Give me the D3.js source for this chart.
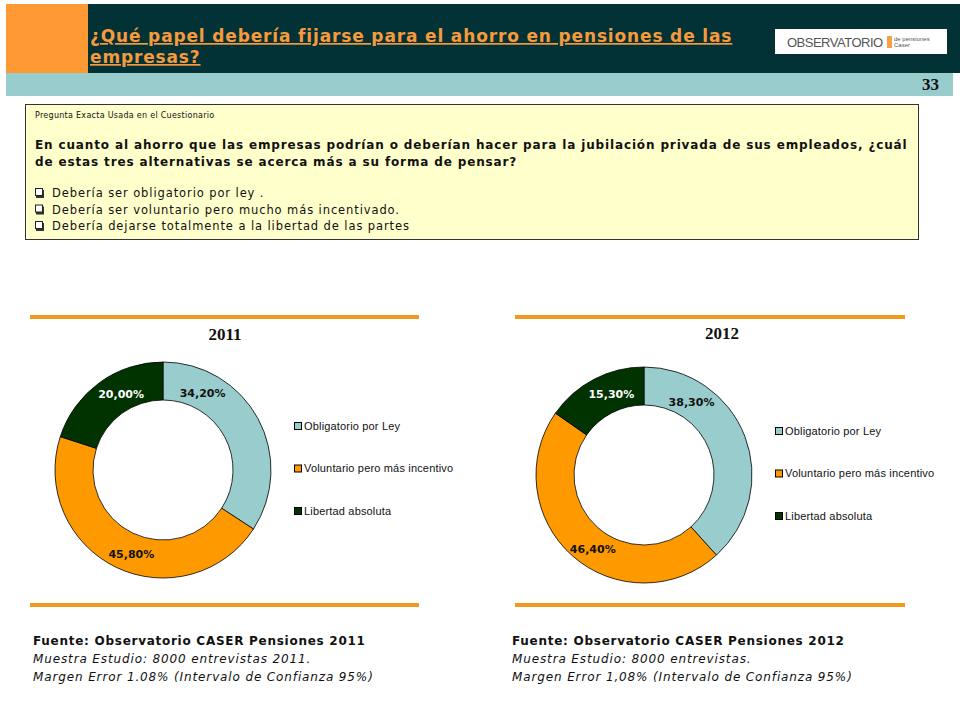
<!DOCTYPE html>
<html><head><meta charset="utf-8">
<script src="https://cdn.jsdelivr.net/npm/d3@7"></script>
<style>html,body{margin:0;padding:0;background:#fff}svg{display:block}</style>
</head><body>
<svg id="c" width="960" height="720"></svg>
<script>
const categories = ["Obligatorio por Ley", "Voluntario pero más incentivo", "Libertad absoluta"];
const years = ["2011", "2012"];
const values2011 = [34.2, 45.8, 20.0];
const values2012 = [38.3, 46.4, 15.3];
const valueLabels2011 = ["34,20%", "45,80%", "20,00%"];
const valueLabels2012 = ["38,30%", "46,40%", "15,30%"];
const titleLines = ["¿Qué papel debería fijarse para el ahorro en pensiones de las", "empresas?"];
const questionHeader = "Pregunta Exacta Usada en el Cuestionario";
const questionLines = ["En cuanto al ahorro que las empresas podrían o deberían hacer para la jubilación privada de sus empleados, ¿cuál", "de estas tres alternativas se acerca más a su forma de pensar?"];
const options = ["Debería ser obligatorio por ley .", "Debería ser voluntario pero mucho más incentivado.", "Debería dejarse totalmente  a la libertad de las partes"];
const sources = ["Fuente: Observatorio CASER Pensiones 2011", "Fuente: Observatorio CASER Pensiones 2012"];
const samples = ["Muestra Estudio: 8000 entrevistas 2011.", "Muestra Estudio: 8000 entrevistas."];
const margins = ["Margen Error 1.08% (Intervalo de Confianza 95%)", "Margen Error 1,08% (Intervalo de Confianza 95%)"];

const colors = ["#99CCCC", "#FF9900", "#003300"];
const labelColors = ["#111", "#111", "#fff"];
const orange = "#F79A3B";
const svg = d3.select("#c");

// Header
svg.append("rect").attr("x", 88).attr("y", 4).attr("width", 872).attr("height", 69).attr("fill", "#023236");
svg.append("rect").attr("x", 6).attr("y", 4).attr("width", 82).attr("height", 69).attr("fill", "#FF9933");
svg.append("rect").attr("x", 6).attr("y", 73).attr("width", 947).attr("height", 23).attr("fill", "#99CCCC");
svg.selectAll("text.title").data(titleLines).join("text")
  .attr("x", 90).attr("y", (d, i) => 42 + i * 21)
  .attr("font-family", "DejaVu Sans").attr("font-weight", "bold").attr("font-size", 17).attr("letter-spacing", 0.85)
  .attr("fill", orange).style("text-decoration", "underline").text(d => d);
// logo
const logo = svg.append("g");
logo.append("rect").attr("x", 775).attr("y", 29).attr("width", 172).attr("height", 25).attr("fill", "#fff");
logo.append("text").attr("x", 787).attr("y", 47).attr("font-family", "Liberation Sans").attr("font-size", 13)
  .attr("fill", "#555").attr("letter-spacing", -0.5).text("OBSERVATORIO");
logo.append("rect").attr("x", 887).attr("y", 36).attr("width", 5).attr("height", 12).attr("fill", "#F7A24A");
logo.append("text").attr("x", 894).attr("y", 41).attr("font-family", "Liberation Sans").attr("font-size", 6).attr("fill", "#555").text("de pensiones");
logo.append("text").attr("x", 894).attr("y", 47).attr("font-family", "Liberation Sans").attr("font-size", 6).attr("fill", "#555").text("Caser");
svg.append("text").attr("x", 939).attr("y", 90).attr("text-anchor", "end")
  .attr("font-family", "Liberation Serif").attr("font-weight", "bold").attr("font-size", 17).attr("fill", "#111").text("33");

// Question box
svg.append("rect").attr("x", 25.5).attr("y", 104.5).attr("width", 893).attr("height", 135)
  .attr("fill", "#FFFFCC").attr("stroke", "#333").attr("stroke-width", 1);
svg.append("text").attr("x", 35).attr("y", 118).attr("font-family", "DejaVu Sans").attr("font-size", 8).attr("letter-spacing", 0.28).attr("fill", "#111").text(questionHeader);
svg.selectAll("text.q").data(questionLines).join("text")
  .attr("x", 35).attr("y", (d, i) => 149 + i * 17)
  .attr("font-family", "DejaVu Sans").attr("font-weight", "bold").attr("font-size", 12).attr("letter-spacing", 0.86).attr("fill", "#111").text(d => d);
const opt = svg.selectAll("g.opt").data(options).join("g").attr("transform", (d, i) => `translate(35,${197 + i * 16.5})`);
opt.append("rect").attr("x", 1).attr("y", -7).attr("width", 8).attr("height", 8).attr("fill", "#333");
opt.append("rect").attr("x", 0.5).attr("y", -8.5).attr("width", 7).attr("height", 7).attr("fill", "#fff").attr("stroke", "#222").attr("stroke-width", 1);
opt.append("text").attr("x", 17).attr("y", 0).attr("font-family", "DejaVu Sans").attr("font-size", 11.5).attr("letter-spacing", 0.9).attr("fill", "#111").text(d => d);

// Donuts
const panels = [
  {year: years[0], values: values2011, labels: valueLabels2011, left: 30, right: 419, cx: 163, cy: 470, titleX: 225, titleY: 340, fr: [0.22, 0.47, 0.6], src: 0, textX: 33},
  {year: years[1], values: values2012, labels: valueLabels2012, left: 515, right: 905, cx: 644, cy: 475, titleX: 722, titleY: 339, fr: [0.24, 0.46, 0.6], src: 1, textX: 512}
];
const pie = d3.pie().sort(null).value(d => d);
const arc = d3.arc().innerRadius(70).outerRadius(108);

panels.forEach(p => {
  svg.append("line").attr("x1", p.left).attr("x2", p.right).attr("y1", 317).attr("y2", 317).attr("stroke", "#F39A1E").attr("stroke-width", 4);
  svg.append("line").attr("x1", p.left).attr("x2", p.right).attr("y1", 605).attr("y2", 605).attr("stroke", "#F39A1E").attr("stroke-width", 4);
  svg.append("text").attr("x", p.titleX).attr("y", p.titleY).attr("text-anchor", "middle")
    .attr("font-family", "Liberation Serif").attr("font-weight", "bold").attr("font-size", 17).attr("fill", "#111").text(p.year);
  const g = svg.append("g").attr("transform", `translate(${p.cx},${p.cy})`);
  const arcs = pie(p.values);
  g.selectAll("path").data(arcs).join("path").attr("d", arc)
    .attr("fill", (d, i) => colors[i]).attr("stroke", "#000").attr("stroke-width", 0.8);
  g.selectAll("text").data(arcs).join("text")
    .attr("transform", (d, i) => {
      const a = d.startAngle + (d.endAngle - d.startAngle) * p.fr[i];
      const r = i === 1 ? 90 : 87;
      return `translate(${r * Math.sin(a)},${-r * Math.cos(a)})`;
    })
    .attr("text-anchor", "middle").attr("dy", "0.36em")
    .attr("font-family", "DejaVu Sans").attr("font-weight", "bold").attr("font-size", 11)
    .attr("fill", (d, i) => labelColors[i]).text((d, i) => p.labels[i]);
  const leg = g.selectAll("g.leg").data(categories).join("g")
    .attr("transform", (d, i) => `translate(131,${-44 + i * 42.5})`);
  leg.append("rect").attr("x", 0.5).attr("y", -3.5).attr("width", 7).attr("height", 7)
    .attr("fill", (d, i) => colors[i]).attr("stroke", "#000").attr("stroke-width", 1);
  leg.append("text").attr("x", 10).attr("y", 0).attr("dy", "0.36em")
    .attr("font-family", "Liberation Sans").attr("font-size", 11).attr("letter-spacing", 0.17).attr("fill", "#111").text(d => d);

  svg.append("text").attr("x", p.textX).attr("y", 645).attr("font-family", "DejaVu Sans").attr("font-weight", "bold").attr("font-size", 12).attr("letter-spacing", 0.73).attr("fill", "#111").text(sources[p.src]);
  svg.append("text").attr("x", p.textX).attr("y", 663).attr("font-family", "DejaVu Sans").attr("font-style", "italic").attr("font-size", 12).attr("letter-spacing", 0.87).attr("fill", "#111").text(samples[p.src]);
  svg.append("text").attr("x", p.textX).attr("y", 681).attr("font-family", "DejaVu Sans").attr("font-style", "italic").attr("font-size", 12).attr("letter-spacing", 0.87).attr("fill", "#111").text(margins[p.src]);
});
</script>
</body></html>
